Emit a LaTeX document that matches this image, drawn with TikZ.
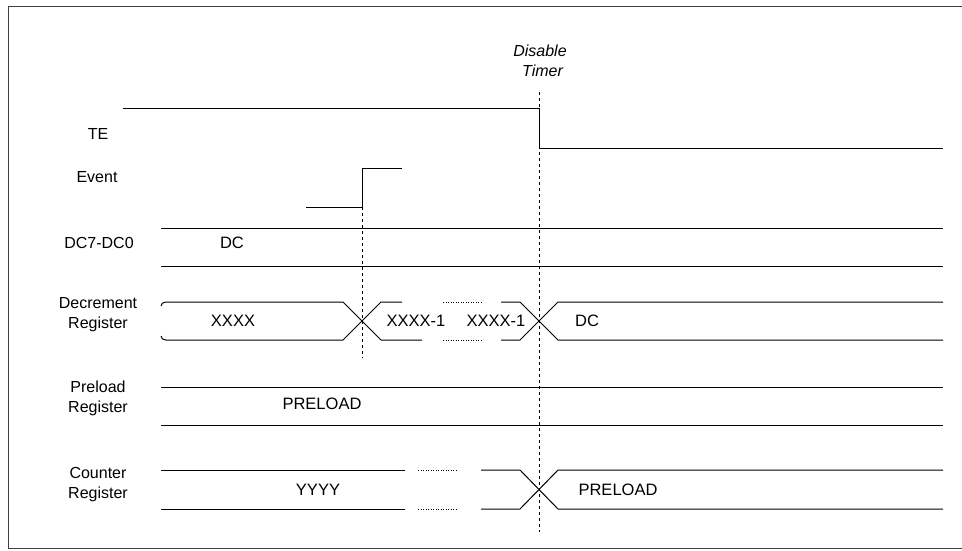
\documentclass[tikz,border=0pt]{standalone}
\usepackage{fontspec}
\setmainfont{Liberation Sans}
\begin{document}
\begin{tikzpicture}[x=1pt,y=-1pt,
  sig/.style={line width=1pt,line cap=butt},
  frm/.style={line width=1pt,black!75},
  markerline/.style={line width=0.9pt,dash pattern=on 3pt off 3pt},
  dotline/.style={line width=0.8pt,dash pattern=on 1pt off 1.5pt},
  lbl/.style={font=\fontsize{16}{19}\selectfont,inner sep=0pt,align=center},
  val/.style={font=\fontsize{16.5}{19}\selectfont,inner sep=0pt}]
\useasboundingbox (0,0) rectangle (962,550);
% frame
\draw[frm] (964,6) -- (8,6) -- (8,548) -- (964,548);

% labels
\node[lbl] (lTE) at (98,134) {TE};
\node[lbl] (lEv) at (97,177) {Event};
\node[lbl] (lDC) at (99,243) {DC7-DC0};
\node[lbl] (lDR) at (98,315) {Decrement\\[1pt]Register};
\node[lbl] (lPR) at (98,398) {Preload\\[1pt]Register};
\node[lbl] (lCR) at (98,485) {Counter\\[1pt]Register};
\node[lbl,font=\fontsize{16}{19}\selectfont\itshape] (dis) at (540,61) {Disable\\[1pt]\hspace*{5pt}Timer};

% marker coordinates
\coordinate (ev) at (362,207);
\coordinate (evb) at (362,358);
\coordinate (dt) at (539,92);
\coordinate (dtb) at (539,532);

% TE
\draw[sig] (123,108) -- (539,108) -- (539,148) -- (943,148);
% Event
\draw[sig] (306,207) -- (ev) -- (362,168) -- (402,168);

% DC7-DC0
\draw[sig] (161,228) -- (943,228);
\draw[sig] (161,266) -- (943,266);
\node[val] (vDC) at (232,243) {DC};

% Decrement register
\draw[sig] (161,306) .. controls (162,303) .. (166,302) -- (343,302) -- (381,340) -- (422,340);
\draw[sig] (161,336) .. controls (162,339) .. (166,340) -- (343,340) -- (381,302) -- (402,302);
\draw[dotline] (443,302) -- (483,302);
\draw[dotline] (443,340) -- (483,340);
\draw[sig] (501,302) -- (520,302) -- (558,340) -- (943,340);
\draw[sig] (501,340) -- (520,340) -- (558,302) -- (943,302);
\node[val] (vX) at (233,321) {XXXX};
\node[val] (vX1) at (416,321) {XXXX-1};
\node[val] (vX2) at (496,321) {XXXX-1};
\node[val] (vDC2) at (587,321) {DC};

% Preload register
\draw[sig] (161,387) -- (943,387);
\draw[sig] (161,425) -- (943,425);
\node[val] (vP) at (322,404) {PRELOAD};

% Counter register
\draw[sig] (161,470) -- (405,470);
\draw[sig] (161,509) -- (405,509);
\draw[dotline] (418,470) -- (458,470);
\draw[dotline] (418,509) -- (458,509);
\draw[sig] (481,470) -- (520,470) -- (558,509) -- (943,509);
\draw[sig] (481,509) -- (520,509) -- (558,470) -- (943,470);
\node[val] (vY) at (318,490) {YYYY};
\node[val] (vP2) at (618,490) {PRELOAD};

% marker lines
\draw[markerline] (ev) -- (evb);
\draw[markerline] (dt) -- (dtb);
\end{tikzpicture}
\end{document}
